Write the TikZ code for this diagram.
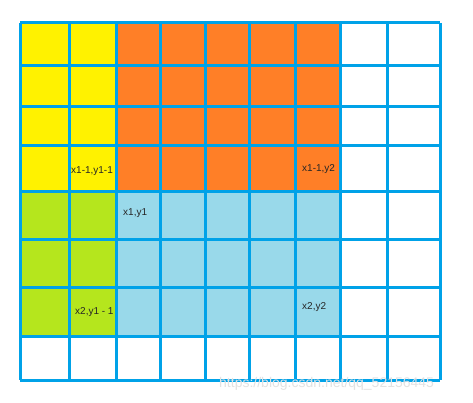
\documentclass[tikz,border=0pt]{standalone}
\usepackage{fontspec}
\setmainfont{Liberation Sans}
\definecolor{gridblue}{HTML}{00A2E8}
\definecolor{cyellow}{HTML}{FFF200}
\definecolor{corange}{HTML}{FF7F27}
\definecolor{cgreen}{HTML}{B5E61D}
\definecolor{cblue}{HTML}{99D9EA}
\definecolor{wmark}{HTML}{E2E2E2}
\tikzset{
  gridline/.style={draw=gridblue, line width=3pt},
  lbl/.style={font=\fontsize{10}{12}\selectfont, text=black!85, inner sep=0pt},
  wm/.style={font=\fontsize{14}{16}\selectfont, text=wmark, inner sep=0pt}
}
\begin{document}
\begin{tikzpicture}[x=1pt,y=-1pt]
\useasboundingbox (0,0) rectangle (473,403);
\fill[white] (0,0) rectangle (473,403);
% x lines: 20,69,116,160,205,249,295,340,387,440
% y lines: 23,66,107,146,192,239,287,336,380
\fill[cyellow] (20,23) rectangle (116,192);
\fill[corange] (116,23) rectangle (340,192);
\fill[cgreen] (20,192) rectangle (116,336);
\fill[cblue] (116,192) rectangle (340,336);
\foreach \x in {20,69,116,160,205,249,295,340,387,440}
  \draw[gridline] (\x,23) -- (\x,380);
\foreach \y in {23,66,107,146,192,239,287,336,380}
  \draw[gridline] (20,\y) -- (440,\y);
\node[lbl, anchor=west] (a) at (71,171) {x1-1,y1-1};
\node[lbl, anchor=west] (b) at (302,169) {x1-1,y2};
\node[lbl, anchor=west] (c) at (123,213) {x1,y1};
\node[lbl, anchor=west] (d) at (75,312) {x2,y1 - 1};
\node[lbl, anchor=west] (e) at (302,307) {x2,y2};
\node[wm, anchor=west] (w) at (219,384) {https://blog.csdn.net/qq\_52156445};
\end{tikzpicture}
\end{document}
